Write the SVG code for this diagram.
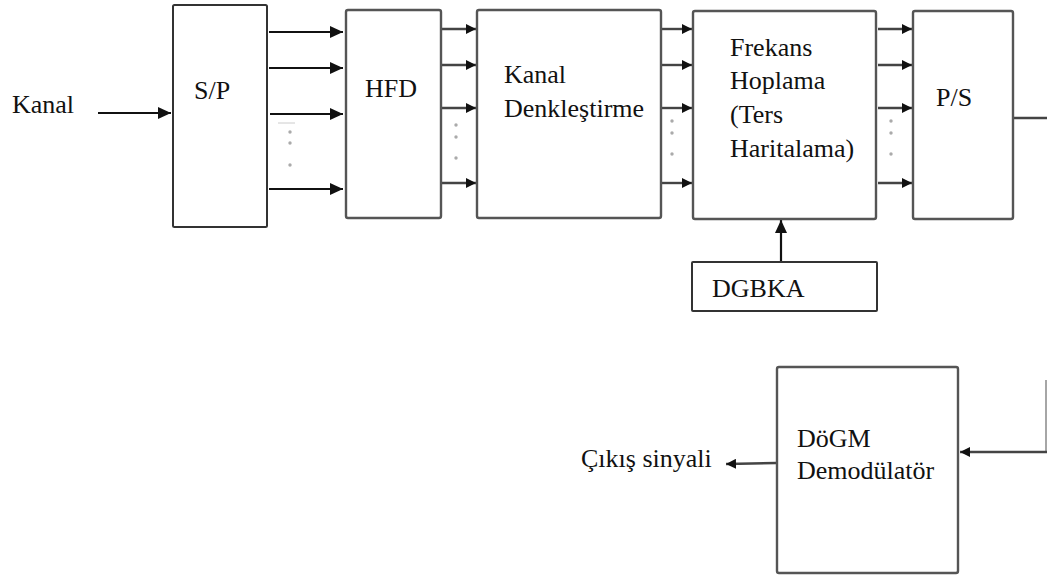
<svg xmlns="http://www.w3.org/2000/svg" width="1047" height="575" viewBox="0 0 1047 575">
<defs>
<style>
.box{fill:#fff;stroke:#555;stroke-width:2.4}
.boxd{fill:#fff;stroke:#333;stroke-width:2}
.t{font-family:"Liberation Serif","Times New Roman",serif;font-size:26px;fill:#111}
.ln{stroke:#111;stroke-width:2.2;fill:none}
.lg{stroke:#444;stroke-width:2.4;fill:none}
.dot{fill:#aaa}
</style>
<marker id="ah" viewBox="0 0 12 12" refX="12" refY="6" markerWidth="13" markerHeight="12" markerUnits="userSpaceOnUse" orient="auto" preserveAspectRatio="none">
<path d="M0,0 L12,6 L0,12 z" fill="#111"/>
</marker>
<marker id="ahs" viewBox="0 0 10 10" refX="10" refY="5" markerWidth="10" markerHeight="10" markerUnits="userSpaceOnUse" orient="auto">
<path d="M0,0 L10,5 L0,10 z" fill="#111"/>
</marker>
</defs>
<rect width="1047" height="575" fill="#fff"/>

<g id="connectors">
<line class="ln" x1="98" y1="113" x2="171" y2="113" marker-end="url(#ah)"/>
<line class="ln" x1="269" y1="32" x2="343" y2="32" marker-end="url(#ah)"/>
<line class="ln" x1="269" y1="68" x2="343" y2="68" marker-end="url(#ah)"/>
<line class="ln" x1="270" y1="114" x2="343" y2="114" marker-end="url(#ah)"/>
<line class="ln" x1="269" y1="189" x2="343" y2="189" marker-end="url(#ah)"/>
<line x1="278" y1="123" x2="295" y2="123" stroke="#ccc" stroke-width="1"/>
<circle class="dot" cx="290" cy="132" r="1.7"/><circle class="dot" cx="290" cy="143" r="1.7"/><circle class="dot" cx="290" cy="165" r="1.7"/>

<line class="lg" x1="442" y1="29" x2="476" y2="29" marker-end="url(#ahs)"/>
<line class="lg" x1="442" y1="65" x2="476" y2="65" marker-end="url(#ahs)"/>
<line class="lg" x1="442" y1="108" x2="476" y2="108" marker-end="url(#ahs)"/>
<line class="lg" x1="442" y1="183" x2="476" y2="183" marker-end="url(#ahs)"/>
<circle class="dot" cx="456" cy="125" r="1.7"/><circle class="dot" cx="456" cy="137" r="1.7"/><circle class="dot" cx="456" cy="158" r="1.7"/>

<line class="lg" x1="662" y1="29" x2="692" y2="29" marker-end="url(#ahs)"/>
<line class="lg" x1="662" y1="65" x2="692" y2="65" marker-end="url(#ahs)"/>
<line class="lg" x1="662" y1="108" x2="692" y2="108" marker-end="url(#ahs)"/>
<line class="lg" x1="662" y1="183" x2="692" y2="183" marker-end="url(#ahs)"/>
<circle class="dot" cx="672" cy="121" r="1.7"/><circle class="dot" cx="672" cy="133" r="1.7"/><circle class="dot" cx="672" cy="154" r="1.7"/>

<line class="lg" x1="878" y1="29" x2="912" y2="29" marker-end="url(#ahs)"/>
<line class="lg" x1="878" y1="65" x2="912" y2="65" marker-end="url(#ahs)"/>
<line class="lg" x1="878" y1="108" x2="912" y2="108" marker-end="url(#ahs)"/>
<line class="lg" x1="878" y1="183" x2="912" y2="183" marker-end="url(#ahs)"/>
<circle class="dot" cx="891" cy="121" r="1.7"/><circle class="dot" cx="891" cy="133" r="1.7"/><circle class="dot" cx="891" cy="154" r="1.7"/>

<line class="lg" x1="1014" y1="118" x2="1047" y2="118"/>
<line class="ln" x1="781" y1="262" x2="781" y2="220" marker-end="url(#ah)"/>
<line x1="1046" y1="380" x2="1046" y2="452" stroke="#888" stroke-width="1.5"/>
<line class="lg" x1="1047" y1="452" x2="960" y2="452" marker-end="url(#ahs)"/>
<line class="lg" x1="776" y1="463" x2="726" y2="464" marker-end="url(#ahs)"/>
</g>

<g id="kanal-in"><text class="t" x="12" y="113">Kanal</text></g>
<g id="sp"><rect class="boxd" x="173" y="5" width="94" height="222" rx="1.5"/><text class="t" x="194" y="99">S/P</text></g>
<g id="hfd"><rect class="box" x="346" y="10" width="95" height="208" rx="2"/><text class="t" x="365" y="97">HFD</text></g>
<g id="kanal-denk"><rect class="box" x="477" y="10" width="184" height="208" rx="2"/><text class="t" x="504" y="83">Kanal</text><text class="t" x="504" y="117">Denkleştirme</text></g>
<g id="frekans"><rect class="box" x="693" y="11" width="183" height="208" rx="2"/><text class="t" x="730" y="56">Frekans</text><text class="t" x="730" y="89">Hoplama</text><text class="t" x="730" y="123">(Ters</text><text class="t" x="730" y="157">Haritalama)</text></g>
<g id="ps"><rect class="box" x="913" y="11" width="100" height="208" rx="2"/><text class="t" x="936" y="106">P/S</text></g>
<g id="dgbka"><rect class="boxd" x="692" y="262" width="185" height="49" rx="1"/><text class="t" x="712" y="297">DGBKA</text></g>
<g id="dogm"><rect class="box" x="777" y="367" width="181" height="206" rx="2"/><text class="t" x="797" y="447">DöGM</text><text class="t" x="797" y="479">Demodülatör</text></g>
<g id="cikis"><text class="t" x="581" y="467">Çıkış sinyali</text></g>
</svg>
